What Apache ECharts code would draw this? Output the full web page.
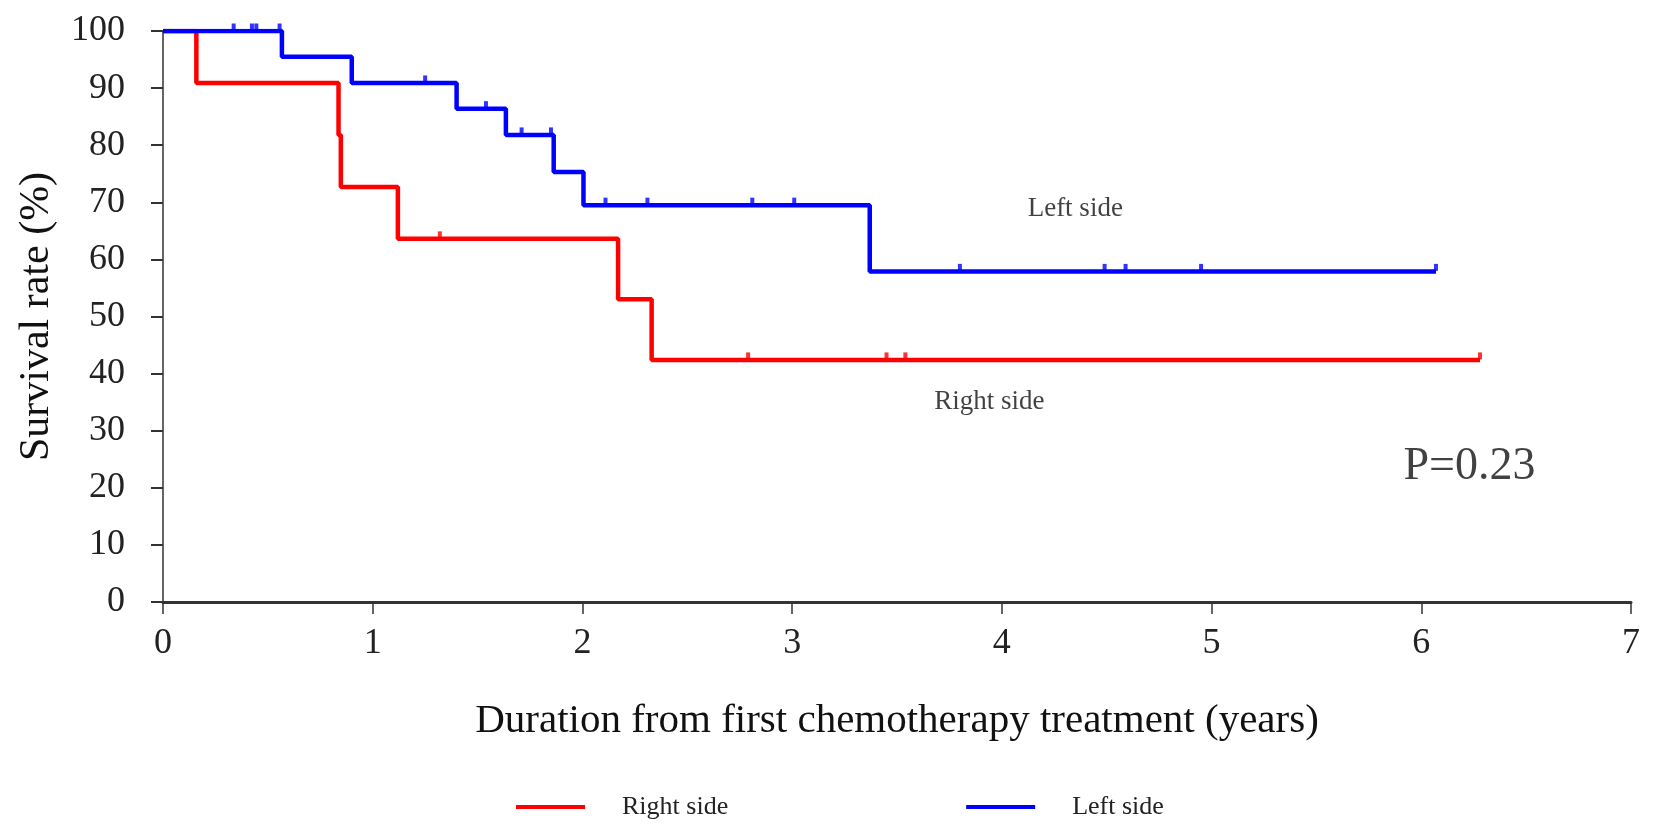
<!DOCTYPE html>
<html>
<head>
<meta charset="utf-8">
<script src="https://cdn.jsdelivr.net/npm/echarts@6/dist/echarts.min.js"></script>
<style>html,body{margin:0;padding:0;background:#fff}#c{width:1654px;height:833px}</style>
</head>
<body>
<div id="c"></div>
<script>
// Right side (red) Kaplan-Meier steps
const rightTimes = [0, 0.159, 0.837, 0.848, 1.12, 2.17, 2.33, 6.28];
const rightValues = [100, 90.9, 81.8, 72.7, 63.6, 53.0, 42.4, 42.4];
const rightCensorTimes = [1.32, 2.79, 3.45, 3.54, 6.28];
const rightCensorValues = [63.6, 42.4, 42.4, 42.4, 42.4];
// Left side (blue)
const leftTimes = [0, 0.567, 0.90, 1.40, 1.635, 1.863, 2.005, 3.37, 6.07];
const leftValues = [100, 95.5, 90.9, 86.4, 81.8, 75.3, 69.5, 57.9, 57.9];
const leftCensorTimes = [0.337, 0.424, 0.445, 0.556, 1.25, 1.54, 1.71, 1.85, 2.11, 2.31, 2.81, 3.01, 3.80, 4.49, 4.59, 4.95, 6.07];
const leftCensorValues = [100, 100, 100, 100, 90.9, 86.4, 81.8, 81.8, 69.5, 69.5, 69.5, 69.5, 57.9, 57.9, 57.9, 57.9, 57.9];
// Axis ticks
const xTicks = [0, 1, 2, 3, 4, 5, 6, 7];
const yTicks = [0, 10, 20, 30, 40, 50, 60, 70, 80, 90, 100];
// Annotations
const noteTexts = ['Left side', 'Right side', 'P=0.23'];
const noteX = [4.35, 3.94, 6.23];
const noteY = [68.9, 35.1, 23.6];

const zip = (a, b) => a.map((v, i) => [v, b[i]]);
const RED = '#ff0000', BLUE = '#0000ff';
const serif = '"Liberation Serif", "Times New Roman", serif';

const chart = echarts.init(document.getElementById('c'));
chart.setOption({
  animation: false,
  backgroundColor: '#fff',
  grid: { left: 163, right: 23, top: 31, bottom: 231 },
  xAxis: {
    type: 'value', min: xTicks[0], max: xTicks[xTicks.length - 1], interval: 1,
    name: 'Duration from first chemotherapy treatment (years)',
    nameLocation: 'middle', nameGap: 99,
    nameTextStyle: { fontFamily: serif, fontSize: 41, color: '#111' },
    axisLine: { show: true, lineStyle: { color: '#333', width: 3 } },
    axisTick: { show: true, length: 12, lineStyle: { color: '#333', width: 1.5 } },
    axisLabel: { fontFamily: serif, fontSize: 36, color: '#222', margin: 24 },
    splitLine: { show: false }
  },
  yAxis: {
    type: 'value', min: yTicks[0], max: yTicks[yTicks.length - 1], interval: 10,
    name: 'Survival rate (%)', nameLocation: 'middle', nameGap: 105, nameRotate: 90,
    nameTextStyle: { fontFamily: serif, fontSize: 42, color: '#111' },
    axisLine: { show: true, lineStyle: { color: '#333', width: 1.5 } },
    axisTick: { show: true, length: 12, lineStyle: { color: '#333', width: 2 } },
    axisLabel: { fontFamily: serif, fontSize: 36, color: '#222', margin: 38 },
    splitLine: { show: false }
  },
  legend: {
    data: ['Right side', 'Left side'],
    left: 511, top: 789, icon: 'rect', itemWidth: 69, itemHeight: 4, itemGap: 238,
    textStyle: { fontFamily: serif, fontSize: 26, color: '#222', padding: [0, 0, 0, 32] }
  },
  series: [
    { name: 'Right side', type: 'line', step: 'end', symbol: 'none', data: zip(rightTimes, rightValues),
      lineStyle: { color: RED, width: 4.5 }, itemStyle: { color: RED }, z: 3 },
    { name: 'Left side', type: 'line', step: 'end', symbol: 'none', data: zip(leftTimes, leftValues),
      lineStyle: { color: BLUE, width: 4.5 }, itemStyle: { color: BLUE }, z: 4 },
    { name: 'rc', type: 'scatter', data: zip(rightCensorTimes, rightCensorValues),
      symbol: 'rect', symbolSize: [4, 7], symbolOffset: [0, -4], itemStyle: { color: RED }, z: 5 },
    { name: 'lc', type: 'scatter', data: zip(leftCensorTimes, leftCensorValues),
      symbol: 'rect', symbolSize: [4, 7], symbolOffset: [0, -4], itemStyle: { color: BLUE }, z: 5 },
    { name: 'notes', type: 'scatter', symbolSize: 0, silent: true,
      data: noteX.map((x, i) => ({ value: [x, noteY[i]], name: noteTexts[i],
        label: { show: true, position: 'inside', formatter: noteTexts[i], fontFamily: serif,
                 fontSize: i === 2 ? 46 : 27, color: '#111' } })) }
  ]
});
</script>
</body>
</html>
